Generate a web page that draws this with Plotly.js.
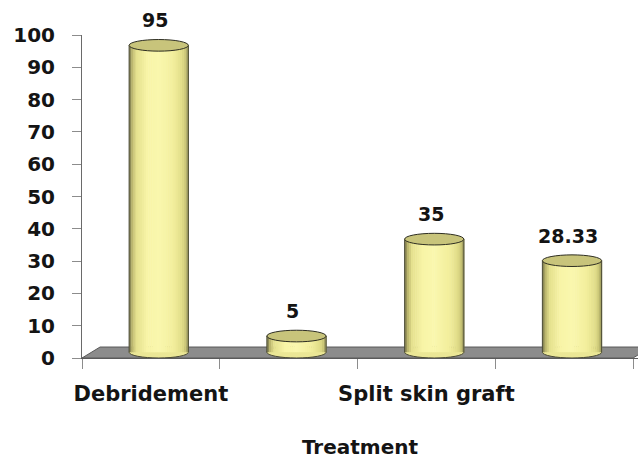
<!DOCTYPE html>
<html>
<head>
<meta charset="utf-8">
<script src="https://cdn.plot.ly/plotly-3.0.1.min.js"></script>
<style>
  html, body { margin: 0; padding: 0; background: #ffffff; }
  #chart { width: 638px; height: 459px; }
</style>
</head>
<body>
<div id="chart"></div>
<script>
// Treatment categories (only alternate labels are printed on the axis)
const categories = ["Debridement", "", "Split skin graft", ""];
// Percentage for each treatment
const values = [95, 5, 35, 28.33];
// Value axis ticks
const yTicks = [0, 10, 20, 30, 40, 50, 60, 70, 80, 90, 100];

const FONT = "DejaVu Sans";
const TEXT = "#141414";
const EDGE = "#4a4a36";

// cylinder geometry in axis units
const barW = 0.43;      // cylinder diameter (x units)
const depthX = 0.057;   // sideways shift from the 3-D depth
const capH = 1.8;       // half height of the elliptical cap (y units)
const lift = 1.8;       // cylinder foot sits this far above the floor front edge
const floorDX = 0.131, floorDY = 3.4;

const idx = categories.map((_, i) => i);

// colour ramp across a lit cylinder, left to right
const stops = [
  [0.00, [112, 110, 72]],
  [0.04, [180, 175, 104]],
  [0.12, [228, 224, 142]],
  [0.30, [248, 244, 166]],
  [0.50, [250, 247, 174]],
  [0.75, [242, 238, 156]],
  [0.90, [224, 220, 136]],
  [0.97, [194, 190, 112]],
  [1.00, [130, 128, 82]]
];
function ramp(t) {
  for (let s = 1; s < stops.length; s++) {
    if (t <= stops[s][0]) {
      const [t0, c0] = stops[s - 1], [t1, c1] = stops[s];
      const f = (t - t0) / (t1 - t0);
      const c = c0.map((v, k) => Math.round(v + (c1[k] - v) * f));
      return `rgb(${c[0]},${c[1]},${c[2]})`;
    }
  }
  const c = stops[stops.length - 1][1];
  return `rgb(${c[0]},${c[1]},${c[2]})`;
}

// cylinder bodies: thin vertical strips drawn as overlaid bars
const N = 28;
const strip = barW / N;
const traces = [];
for (let k = 0; k < N; k++) {
  traces.push({
    type: "bar",
    x: idx,
    y: values,
    base: lift,
    width: strip * 1.25,
    offset: depthX - barW / 2 + k * strip,
    marker: { color: ramp((k + 0.5) / N), line: { width: 0 } },
    hoverinfo: "skip",
    showlegend: false
  });
}

const shapes = [];
// grey floor under the cylinders
shapes.push({
  type: "path", xref: "x", yref: "y", layer: "below",
  path: `M -0.5,0 L 3.5,0 L ${3.5 + floorDX},${floorDY} L ${-0.5 + floorDX},${floorDY} Z`,
  fillcolor: "#8c8c8c", line: { color: "#5a5a5a", width: 1 }
});
values.forEach((v, i) => {
  const x0 = i + depthX - barW / 2, x1 = i + depthX + barW / 2;
  // rounded foot
  shapes.push({
    type: "circle", xref: "x", yref: "y", layer: "below",
    x0, x1, y0: lift - capH, y1: lift + capH,
    fillcolor: "#ebe796", line: { color: EDGE, width: 1 }
  });
  // side outlines
  [x0, x1].forEach(xx => shapes.push({
    type: "line", xref: "x", yref: "y", layer: "above",
    x0: xx, x1: xx, y0: lift, y1: v + lift,
    line: { color: EDGE, width: 1 }
  }));
  // top cap
  shapes.push({
    type: "circle", xref: "x", yref: "y", layer: "above",
    x0, x1, y0: v + lift - capH, y1: v + lift + capH,
    fillcolor: "#c8c47b", line: { color: "#2e2e22", width: 1 }
  });
});

// value labels above each cylinder
const annotations = values.map((v, i) => ({
  x: i + 0.03, y: v + lift, xref: "x", yref: "y",
  text: String(v), showarrow: false, yanchor: "middle", yshift: 25,
  font: { family: FONT, size: 19, color: TEXT, weight: "bold" }
}));

const layout = {
  width: 638, height: 459,
  margin: { l: 82, r: 0, t: 35, b: 101 },
  paper_bgcolor: "#ffffff", plot_bgcolor: "rgba(0,0,0,0)",
  barmode: "overlay",
  showlegend: false,
  xaxis: {
    range: [-0.5, 3.536],
    tickmode: "array", tickvals: idx, ticktext: categories,
    ticks: "", showgrid: false, zeroline: false,
    showline: true, linecolor: "#5a5a5a", linewidth: 1,
    ticklabelstandoff: 17,
    tickfont: { family: FONT, size: 21, color: TEXT, weight: "bold" },
    minor: {
      tickmode: "array", tickvals: [-0.5, 0.5, 1.5, 2.5, 3.5],
      ticks: "outside", ticklen: 10, tickcolor: "#8c8c8c", tickwidth: 1, showgrid: false
    },
    title: {
      text: "Treatment", standoff: 38,
      font: { family: FONT, size: 20, color: TEXT, weight: "bold" }
    },
    fixedrange: true
  },
  yaxis: {
    range: [0, 100],
    tickmode: "array", tickvals: yTicks,
    ticks: "outside", ticklen: 9, tickcolor: "#8c8c8c", tickwidth: 1,
    showgrid: false, zeroline: false,
    showline: true, linecolor: "#6a6a6a", linewidth: 1,
    ticklabelstandoff: 13,
    tickfont: { family: FONT, size: 20, color: TEXT, weight: "bold" },
    fixedrange: true
  },
  shapes,
  annotations
};

Plotly.newPlot("chart", traces, layout, { displayModeBar: false, staticPlot: true });
</script>
</body>
</html>
